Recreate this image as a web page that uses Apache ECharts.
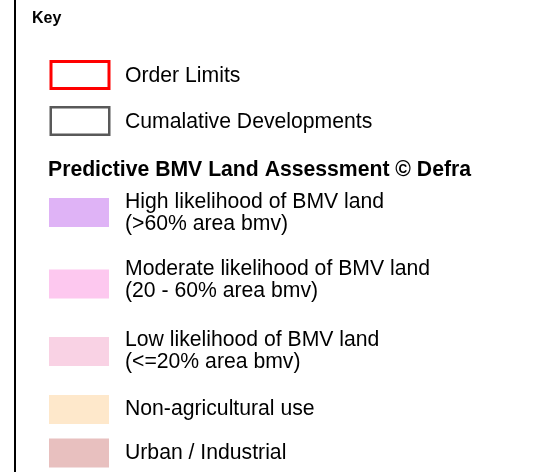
<!DOCTYPE html>
<html>
<head>
<meta charset="utf-8">
<title>Key</title>
<script src="https://cdn.jsdelivr.net/npm/echarts@6/dist/echarts.min.js"></script>
<style>
html, body { margin: 0; padding: 0; background: #fff; }
#key { width: 540px; height: 472px; }
</style>
</head>
<body>
<div id="key"></div>
<script>
// key entries, top to bottom
var keyLabels = [
    'Order Limits',
    'Cumalative Developments',
    'High likelihood of BMV land\n(>60% area bmv)',
    'Moderate likelihood of BMV land\n(20 - 60% area bmv)',
    'Low likelihood of BMV land\n(<=20% area bmv)',
    'Non-agricultural use',
    'Urban / Industrial'
];
var keyFills = ['#ffffff', '#ffffff', '#dfb3f6', '#fdc8ef', '#f9d2e4', '#fee8cb', '#e8c0bf'];
var keyOutlines = ['#ff0000', '#595959', null, null, null, null, null];
var keyHeading = 'Key';
var bmvHeading = 'Predictive BMV Land Assessment \u00a9 Defra';

// layout: row centres (px from top) and label nudges
var rowY = [75, 121, 212.5, 284, 351.5, 409.5, 453];
var labelShift = [1, 1, 1, -4, 0, 0, 0];
var swatchX = 79;

var font = '"Liberation Sans", Arial, sans-serif';

var myChart = echarts.init(document.getElementById('key'));

var rows = keyLabels.map(function (name, i) {
    return [swatchX, rowY[i]];
});

option = {
    animation: false,
    backgroundColor: '#ffffff',
    title: [
        {
            text: keyHeading,
            left: 32,
            top: 11,
            padding: 0,
            textStyle: { fontFamily: font, fontSize: 16, fontWeight: 'bold', color: '#000', lineHeight: 16 }
        },
        {
            text: bmvHeading,
            left: 48,
            top: 159.5,
            padding: 0,
            textStyle: { fontFamily: font, fontSize: 21.2, fontWeight: 'bold', color: '#000', lineHeight: 21 }
        }
    ],
    grid: { left: 15, right: 0, top: 0, bottom: 0 },
    xAxis: {
        type: 'value',
        min: 15,
        max: 540,
        show: false
    },
    yAxis: {
        type: 'value',
        inverse: true,
        min: 0,
        max: 472,
        axisLine: { show: true, lineStyle: { color: '#000', width: 2 } },
        axisTick: { show: false },
        axisLabel: { show: false },
        splitLine: { show: false }
    },
    series: [
        {
            type: 'custom',
            silent: true,
            clip: false,
            data: rows,
            renderItem: function (params, api) {
                var i = params.dataIndex;
                var c = api.coord([api.value(0), api.value(1)]);
                var outline = keyOutlines[i];
                var box;
                if (outline) {
                    var lw = i === 0 ? 3 : 2.5;
                    box = {
                        type: 'rect',
                        shape: { x: c[0] - 29.5 + lw / 2, y: c[1] - 15 + lw / 2, width: 61 - lw, height: 30 - lw },
                        style: { fill: keyFills[i], stroke: outline, lineWidth: lw }
                    };
                } else {
                    box = {
                        type: 'rect',
                        shape: { x: c[0] - 30, y: c[1] - 14.5, width: 60, height: 29 },
                        style: { fill: keyFills[i] }
                    };
                }
                return {
                    type: 'group',
                    children: [
                        box,
                        {
                            type: 'text',
                            x: 125,
                            y: c[1] + labelShift[i],
                            style: {
                                text: keyLabels[i],
                                fill: '#000',
                                fontFamily: font,
                                fontSize: 21.2,
                                lineHeight: 22,
                                align: 'left',
                                verticalAlign: 'middle'
                            }
                        }
                    ]
                };
            }
        }
    ]
};
myChart.setOption(option);
</script>
</body>
</html>
